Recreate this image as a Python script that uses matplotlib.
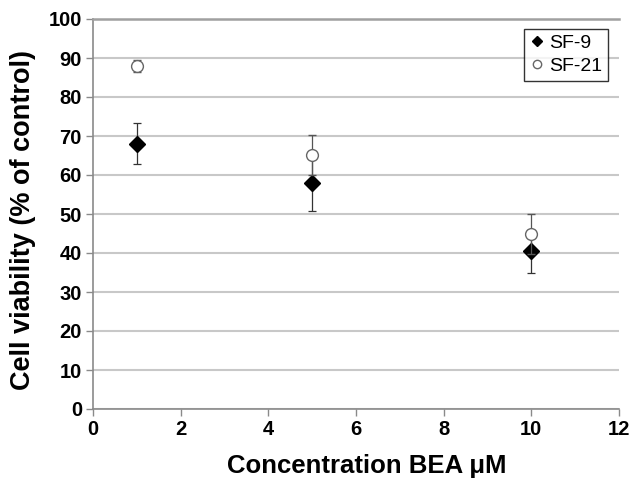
import matplotlib

matplotlib.use("Agg")
import matplotlib.pyplot as plt
from matplotlib.lines import Line2D

plt.rcParams["font.family"] = ["Liberation Sans", "DejaVu Sans"]

# concentration of BEA (uM)
conc = [1, 5, 10]

# cell viability (% of control) with error bars
sf9_mean = [68.0, 58.0, 40.5]
sf9_err = [5.3, 7.2, 5.5]
sf21_mean = [88.0, 65.2, 44.8]
sf21_err = [1.6, 5.1, 5.1]

xticks = [0, 2, 4, 6, 8, 10, 12]
yticks = list(range(0, 101, 10))

grey = "#8a8a8a"

fig = plt.figure(figsize=(6.33, 4.78), dpi=100)
ax = fig.add_axes([93 / 633, 1 - 409 / 478, 526 / 633, 390 / 478])

ax.errorbar(conc, sf9_mean, yerr=sf9_err, fmt="D", ms=8.5, color="black",
            ecolor="#333333", elinewidth=0.9, capsize=3, capthick=0.9,
            zorder=3)
ax.errorbar(conc, sf21_mean, yerr=sf21_err, fmt="o", ms=8.5, mfc="white",
            mec="#666666", mew=1.0, ecolor="#555555", elinewidth=0.9,
            capsize=3, capthick=0.9, zorder=4)

ax.set_xlim(0, 12)
ax.set_ylim(0, 100)
ax.set_xticks(xticks)
ax.set_yticks(yticks)
ax.yaxis.grid(True, color="#c8c8c8", linewidth=1.5)
ax.set_axisbelow(True)

ax.spines["right"].set_visible(False)
ax.spines["top"].set_color("#a0a0a0")
ax.spines["top"].set_linewidth(1.8)
for side in ("left", "bottom"):
    ax.spines[side].set_color(grey)
    ax.spines[side].set_linewidth(1.2)

ax.tick_params(direction="out", length=5, width=1.0, color=grey,
               labelsize=14.5, pad=3)
for lab in ax.get_xticklabels() + ax.get_yticklabels():
    lab.set_fontweight("bold")

ax.set_xlabel("Concentration BEA μM", fontsize=18.5, fontweight="bold")
ax.xaxis.set_label_coords(0.52, -0.115)
ax.set_ylabel("Cell viability (% of control)", fontsize=19.5, fontweight="bold")
ax.yaxis.set_label_coords(-0.108, 0.485)

handles = [
    Line2D([], [], marker="D", ls="none", ms=5, color="black"),
    Line2D([], [], marker="o", ls="none", ms=6, mfc="white", mec="#666666", mew=1.0),
]
leg = ax.legend(handles, ["SF-9", "SF-21"], loc="upper right",
                bbox_to_anchor=(0.98, 0.975), fontsize=14,
                frameon=True, fancybox=False, edgecolor="black",
                handlelength=0.7, handletextpad=0.3, borderpad=0.3,
                borderaxespad=0, labelspacing=0.25)
leg.get_frame().set_linewidth(1.0)

fig.savefig("out.png", dpi=100)
